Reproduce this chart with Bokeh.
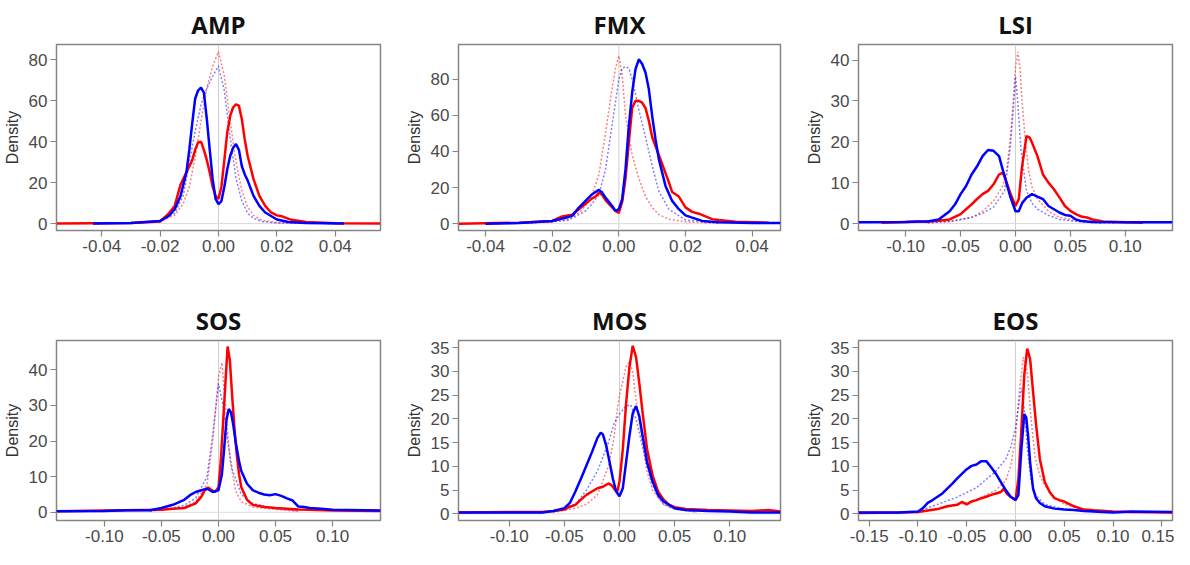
from bokeh.plotting import figure
from bokeh.layouts import row, column
from bokeh.models import Range1d, FixedTicker, NumeralTickFormatter, Span
from bokeh.embed import file_html
from bokeh.resources import INLINE

titles = ["AMP", "FMX", "LSI", "SOS", "MOS", "EOS"]

# ---------------- AMP ----------------
amp_blue_x = [-0.043, -0.03, -0.02, -0.017, -0.015, -0.013, -0.011, -0.010, -0.009, -0.008, -0.007, -0.006, -0.005, -0.004, -0.003, -0.002, -0.001, 0.000, 0.001, 0.002, 0.003, 0.004, 0.005, 0.006, 0.007, 0.008, 0.009, 0.010, 0.012, 0.014, 0.016, 0.018, 0.020, 0.024, 0.030, 0.043]
amp_blue_y = [0.0, 0.3, 1.3, 3.7, 7.0, 13.5, 25, 36, 49, 61, 65, 66.4, 64, 51, 36, 21.7, 12, 9.5, 11, 18, 26.5, 33, 37, 38.8, 36, 28, 24, 21, 13.5, 8.6, 5.4, 3.7, 2.0, 0.8, 0.3, 0.0]
amp_red_x = [-0.0555, -0.03, -0.02, -0.017, -0.015, -0.013, -0.011, -0.009, -0.008, -0.007, -0.006, -0.005, -0.004, -0.003, -0.002, -0.001, 0.000, 0.001, 0.002, 0.003, 0.004, 0.005, 0.006, 0.007, 0.008, 0.009, 0.010, 0.012, 0.014, 0.016, 0.018, 0.020, 0.022, 0.025, 0.030, 0.040, 0.0555]
amp_red_y = [0.0, 0.3, 1.0, 5.0, 8.6, 19, 25, 31, 36, 39.6, 40, 36, 31, 25, 18, 13.5, 12, 18, 31, 44.5, 52.6, 56.7, 58.3, 57.5, 51, 41, 33, 21.7, 13.5, 8.6, 5.4, 4.0, 3.4, 1.8, 0.8, 0.2, 0.0]
amp_dot_x = [-0.03, -0.02, -0.015, -0.012, -0.010, -0.008, -0.006, -0.004, -0.002, 0.000, 0.002, 0.004, 0.006, 0.008, 0.010, 0.012, 0.015, 0.020, 0.030]
amp_rdot_y = [0.2, 1.0, 4, 10, 18, 32, 50, 66, 77, 84, 72, 50, 30, 16, 8, 4, 1.5, 0.5, 0.1]
amp_bdot_y = [0.3, 1.5, 5, 14, 30, 45, 58, 66, 72, 77, 65, 42, 22, 11, 5, 2.5, 1, 0.3, 0.1]

# ---------------- FMX ----------------
fmx_blue_x = [-0.040, -0.03, -0.02, -0.016, -0.014, -0.012, -0.010, -0.008, -0.006, -0.005, -0.004, -0.002, -0.001, 0.000, 0.001, 0.002, 0.003, 0.004, 0.005, 0.006, 0.007, 0.008, 0.009, 0.010, 0.011, 0.012, 0.014, 0.016, 0.018, 0.020, 0.022, 0.025, 0.030, 0.040, 0.0485]
fmx_blue_y = [0.0, 0.3, 1.5, 3.3, 4.3, 8.9, 12.6, 16.3, 18.7, 17.2, 14.4, 9.8, 7.0, 8.0, 13.5, 30, 54, 72.6, 85.6, 91, 88.4, 83.7, 74.5, 59.7, 46.8, 35.7, 20.9, 12.6, 8.0, 4.6, 3.3, 1.5, 0.8, 0.4, 0.4]
fmx_red_x = [-0.0481, -0.03, -0.02, -0.017, -0.014, -0.012, -0.010, -0.008, -0.007, -0.006, -0.005, -0.004, -0.002, -0.001, 0.000, 0.001, 0.002, 0.003, 0.004, 0.005, 0.006, 0.007, 0.008, 0.009, 0.010, 0.011, 0.012, 0.013, 0.014, 0.015, 0.016, 0.018, 0.020, 0.022, 0.024, 0.026, 0.028, 0.030, 0.035, 0.045]
fmx_red_y = [0.0, 0.5, 1.5, 4, 5, 8, 11, 14, 15, 17, 16, 13, 9, 7, 6, 12, 25, 45, 64, 68, 68, 67, 64, 57, 48, 43, 38, 33, 28, 23, 17.5, 15, 9, 6.5, 5.5, 4, 2.5, 2, 1, 0.5]
fmx_rdot_x = [-0.03, -0.02, -0.015, -0.012, -0.010, -0.008, -0.006, -0.004, -0.002, -0.001, 0.000, 0.001, 0.002, 0.004, 0.006, 0.008, 0.010, 0.012, 0.015, 0.020, 0.030]
fmx_rdot_y = [0.2, 1, 2.5, 6, 10, 16, 27, 50, 75, 86, 93, 82, 60, 38, 25, 15, 9, 5, 2.5, 1, 0.2]
fmx_bdot_x = [-0.03, -0.02, -0.015, -0.010, -0.008, -0.006, -0.004, -0.002, 0.000, 0.001, 0.002, 0.003, 0.004, 0.005, 0.006, 0.008, 0.010, 0.012, 0.015, 0.020, 0.030]
fmx_bdot_y = [0.2, 1, 2, 7, 11, 16, 30, 55, 80, 86, 87, 86, 80, 72, 63, 48, 32, 18, 8, 2, 0.4]

# ---------------- LSI ----------------
lsi_blue_x = [-0.143, -0.10, -0.09, -0.08, -0.07, -0.06, -0.055, -0.05, -0.045, -0.04, -0.035, -0.03, -0.025, -0.02, -0.015, -0.01, -0.005, 0.0, 0.003, 0.006, 0.01, 0.015, 0.02, 0.025, 0.03, 0.035, 0.04, 0.045, 0.05, 0.055, 0.06, 0.07, 0.10, 0.143]
lsi_blue_y = [0.3, 0.4, 0.5, 0.5, 1.0, 3.0, 4.7, 7.2, 9.2, 12, 14, 16.5, 18, 17.8, 16.5, 11.6, 6.8, 3.0, 3.0, 5.0, 6.3, 7.2, 6.6, 6.0, 4.3, 3.5, 2.7, 2.1, 1.9, 1.0, 0.6, 0.4, 0.3, 0.3]
lsi_red_x = [-0.122, -0.10, -0.08, -0.07, -0.06, -0.05, -0.045, -0.04, -0.035, -0.03, -0.025, -0.02, -0.015, -0.012, -0.01, -0.005, 0.0, 0.003, 0.006, 0.01, 0.013, 0.015, 0.02, 0.025, 0.03, 0.035, 0.04, 0.045, 0.05, 0.055, 0.06, 0.065, 0.07, 0.08, 0.10, 0.116]
lsi_red_y = [0.2, 0.4, 0.5, 0.7, 1.0, 2.3, 3.5, 4.7, 6.0, 7.2, 8.0, 9.6, 12, 12.4, 11.6, 7.6, 4.3, 6.0, 14, 21.4, 21, 19.8, 16.5, 12, 10, 8.4, 6.4, 4.3, 3.1, 2.3, 1.7, 1.5, 1.0, 0.5, 0.3, 0.2]
lsi_rdot_x = [-0.08, -0.06, -0.04, -0.03, -0.02, -0.012, -0.008, -0.005, -0.002, 0.0, 0.002, 0.004, 0.006, 0.009, 0.012, 0.015, 0.02, 0.03, 0.04, 0.05, 0.07, 0.09]
lsi_rdot_y = [0.2, 0.5, 1.5, 3, 5.5, 9, 13, 20, 30, 38, 42, 38, 30, 20, 13, 9, 6, 3, 1.5, 1, 0.3, 0.1]
lsi_bdot_x = [-0.08, -0.06, -0.04, -0.03, -0.02, -0.01, -0.005, -0.002, 0.0, 0.002, 0.005, 0.01, 0.015, 0.02, 0.03, 0.04, 0.06, 0.08]
lsi_bdot_y = [0.2, 0.5, 1.5, 2.5, 4, 8, 18, 28, 36, 30, 18, 8, 5, 3.5, 2, 1, 0.4, 0.1]

# ---------------- SOS ----------------
sos_blue_x = [-0.142, -0.10, -0.08, -0.06, -0.05, -0.04, -0.03, -0.025, -0.02, -0.015, -0.01, -0.005, 0.0, 0.003, 0.005, 0.007, 0.009, 0.011, 0.013, 0.015, 0.018, 0.02, 0.025, 0.03, 0.035, 0.04, 0.045, 0.05, 0.055, 0.06, 0.065, 0.07, 0.075, 0.08, 0.09, 0.10, 0.142]
sos_blue_y = [0.3, 0.4, 0.6, 0.6, 1.2, 2.1, 3.5, 4.8, 5.7, 6.2, 6.6, 5.7, 6.2, 10.7, 18, 26, 29, 28, 24.4, 19.8, 14.4, 11.6, 8, 6.2, 5.5, 5.0, 4.8, 5.1, 4.6, 3.9, 3.3, 1.6, 1.5, 1.2, 1.0, 0.7, 0.5]
sos_red_x = [-0.142, -0.10, -0.05, -0.04, -0.03, -0.02, -0.015, -0.012, -0.009, -0.006, -0.003, 0.0, 0.002, 0.004, 0.006, 0.008, 0.010, 0.012, 0.014, 0.016, 0.018, 0.02, 0.025, 0.03, 0.04, 0.05, 0.06, 0.07, 0.08, 0.10, 0.142]
sos_red_y = [0.3, 0.5, 0.7, 1.0, 1.2, 2.5, 4.4, 6.2, 7.0, 6.2, 5.7, 7.0, 14.4, 25, 36, 46.5, 42.5, 32.5, 23.5, 16.2, 10.7, 7.0, 3.5, 2.1, 1.5, 1.2, 1.0, 0.8, 0.7, 0.5, 0.4]
sos_rdot_x = [-0.06, -0.04, -0.03, -0.02, -0.01, -0.005, 0.0, 0.003, 0.006, 0.01, 0.015, 0.02, 0.03, 0.05, 0.07]
sos_rdot_y = [0.3, 1, 1.5, 3, 8, 20, 38, 42, 30, 15, 6, 3, 1.5, 0.8, 0.3]
sos_bdot_x = [-0.06, -0.04, -0.03, -0.02, -0.01, -0.005, 0.0, 0.004, 0.008, 0.012, 0.02, 0.03, 0.05, 0.07]
sos_bdot_y = [0.4, 1.2, 2, 4, 10, 22, 36, 30, 20, 12, 5, 2.5, 1, 0.4]

# ---------------- MOS ----------------
mos_blue_x = [-0.146, -0.10, -0.07, -0.06, -0.05, -0.045, -0.04, -0.035, -0.03, -0.025, -0.02, -0.017, -0.015, -0.012, -0.009, -0.006, -0.003, 0.0, 0.003, 0.006, 0.009, 0.012, 0.015, 0.018, 0.021, 0.025, 0.03, 0.035, 0.04, 0.05, 0.06, 0.08, 0.10, 0.12, 0.146]
mos_blue_y = [0.3, 0.3, 0.3, 0.6, 1.2, 2.3, 4.7, 7.4, 10.2, 13, 16, 17.1, 16.7, 14.3, 10.9, 7.4, 4.7, 3.7, 5.4, 10.9, 16.4, 21.2, 22.7, 20.5, 16.4, 10.9, 6.8, 4.0, 2.6, 1.2, 0.8, 0.6, 0.5, 0.3, 0.3]
mos_red_x = [-0.146, -0.10, -0.07, -0.06, -0.05, -0.045, -0.04, -0.035, -0.03, -0.025, -0.02, -0.015, -0.01, -0.007, -0.004, -0.002, 0.0, 0.003, 0.006, 0.009, 0.012, 0.015, 0.018, 0.021, 0.025, 0.03, 0.035, 0.04, 0.045, 0.05, 0.06, 0.08, 0.10, 0.12, 0.135, 0.146]
mos_red_y = [0.3, 0.4, 0.4, 0.6, 0.9, 1.5, 1.9, 3.0, 4.0, 4.7, 5.4, 5.7, 6.4, 6.0, 5.0, 4.7, 6.8, 13.6, 23.3, 30.9, 35.4, 33, 27.4, 21.2, 13.6, 8.1, 4.7, 3.0, 1.9, 1.4, 1.0, 0.8, 0.7, 0.6, 0.8, 0.5]
mos_rdot_x = [-0.06, -0.04, -0.03, -0.02, -0.01, -0.005, -0.002, 0.0, 0.003, 0.006, 0.009, 0.012, 0.015, 0.02, 0.025, 0.03, 0.04, 0.05, 0.07]
mos_rdot_y = [0.3, 1.2, 2, 4, 10, 16, 22, 25, 28, 31, 32, 30, 24, 16, 9, 5, 2, 1, 0.4]
mos_bdot_x = [-0.06, -0.04, -0.03, -0.02, -0.015, -0.01, -0.005, 0.0, 0.005, 0.01, 0.015, 0.02, 0.025, 0.03, 0.035, 0.04, 0.05, 0.07]
mos_bdot_y = [0.5, 2, 5, 9, 12, 15, 19, 21, 22.5, 23, 20, 15, 10, 6, 3.5, 2, 1, 0.4]

# ---------------- EOS ----------------
eos_blue_x = [-0.161, -0.12, -0.10, -0.095, -0.09, -0.085, -0.08, -0.075, -0.07, -0.065, -0.06, -0.055, -0.05, -0.045, -0.04, -0.035, -0.03, -0.025, -0.02, -0.015, -0.01, -0.005, 0.0, 0.003, 0.006, 0.009, 0.011, 0.013, 0.015, 0.018, 0.021, 0.025, 0.03, 0.04, 0.05, 0.06, 0.07, 0.08, 0.10, 0.12, 0.161]
eos_blue_y = [0.3, 0.3, 0.5, 1.2, 2.3, 2.9, 3.6, 4.3, 5.3, 6.3, 7.4, 8.4, 9.4, 10.1, 10.4, 11.1, 11.1, 9.8, 8.4, 6.7, 5.0, 3.6, 2.9, 4.0, 13.5, 21, 20.3, 16.2, 10.8, 5.3, 3.3, 2.3, 1.6, 1.1, 0.9, 0.8, 0.6, 0.5, 0.3, 0.5, 0.4]
eos_red_x = [-0.161, -0.12, -0.10, -0.09, -0.08, -0.07, -0.06, -0.055, -0.05, -0.045, -0.04, -0.035, -0.03, -0.025, -0.02, -0.015, -0.012, -0.009, -0.005, 0.0, 0.003, 0.006, 0.009, 0.012, 0.015, 0.018, 0.021, 0.025, 0.03, 0.035, 0.04, 0.045, 0.05, 0.06, 0.07, 0.08, 0.10, 0.12, 0.161]
eos_red_y = [0.2, 0.3, 0.4, 0.7, 1.0, 1.6, 1.9, 2.5, 2.0, 2.6, 2.9, 3.3, 3.6, 4.0, 4.3, 4.6, 5.3, 4.3, 3.6, 2.9, 7.4, 17.6, 29.2, 34.8, 32.6, 25.8, 19, 11.5, 6.7, 4.6, 3.3, 2.9, 2.6, 1.6, 0.9, 0.75, 0.5, 0.4, 0.3]
eos_rdot_x = [-0.10, -0.08, -0.06, -0.04, -0.02, -0.01, -0.005, 0.0, 0.004, 0.008, 0.012, 0.016, 0.02, 0.025, 0.03, 0.04, 0.05, 0.07, 0.10]
eos_rdot_y = [0.3, 1, 1.8, 3, 5, 7, 10, 16, 26, 33, 30, 20, 12, 8, 6, 3.5, 2, 1, 0.4]
eos_bdot_x = [-0.10, -0.08, -0.06, -0.04, -0.02, -0.01, -0.005, 0.0, 0.004, 0.006, 0.009, 0.012, 0.016, 0.02, 0.03, 0.05, 0.08]
eos_bdot_y = [0.5, 2, 3.5, 5.5, 9, 11.5, 14, 18, 24, 26.5, 22, 14, 7, 4, 2, 1, 0.5]

# axis ranges and ticks
x_ranges = [(-0.0555, 0.0555), (-0.0481, 0.0485), (-0.143, 0.143), (-0.142, 0.142), (-0.146, 0.146), (-0.161, 0.161)]
y_ranges = [(-3.4, 87.5), (-3.8, 99.2), (-1.7, 43.8), (-2.3, 48.2), (-1.4, 36.5), (-1.4, 36.5)]
x_ticks = [[-0.04, -0.02, 0.0, 0.02, 0.04], [-0.04, -0.02, 0.0, 0.02, 0.04],
           [-0.10, -0.05, 0.0, 0.05, 0.10], [-0.10, -0.05, 0.0, 0.05, 0.10],
           [-0.10, -0.05, 0.0, 0.05, 0.10], [-0.15, -0.10, -0.05, 0.0, 0.05, 0.10, 0.15]]
y_ticks = [[0, 20, 40, 60, 80], [0, 20, 40, 60, 80], [0, 10, 20, 30, 40],
           [0, 10, 20, 30, 40], [0, 5, 10, 15, 20, 25, 30, 35], [0, 5, 10, 15, 20, 25, 30, 35]]

series = [
    (amp_dot_x, amp_rdot_y, amp_dot_x, amp_bdot_y, amp_red_x, amp_red_y, amp_blue_x, amp_blue_y),
    (fmx_rdot_x, fmx_rdot_y, fmx_bdot_x, fmx_bdot_y, fmx_red_x, fmx_red_y, fmx_blue_x, fmx_blue_y),
    (lsi_rdot_x, lsi_rdot_y, lsi_bdot_x, lsi_bdot_y, lsi_red_x, lsi_red_y, lsi_blue_x, lsi_blue_y),
    (sos_rdot_x, sos_rdot_y, sos_bdot_x, sos_bdot_y, sos_red_x, sos_red_y, sos_blue_x, sos_blue_y),
    (mos_rdot_x, mos_rdot_y, mos_bdot_x, mos_bdot_y, mos_red_x, mos_red_y, mos_blue_x, mos_blue_y),
    (eos_rdot_x, eos_rdot_y, eos_bdot_x, eos_bdot_y, eos_red_x, eos_red_y, eos_blue_x, eos_blue_y),
]

col_w = [392, 391, 391]
col_left = [55, 66, 75]
col_right = [12, 3, 2]
row_h = [272, 277]
row_top = [44, 68]
row_bottom = [42, 29]

figs = []
for i in range(6):
    r, c = divmod(i, 3)
    p = figure(width=col_w[c], height=row_h[r], output_backend="svg", toolbar_location=None,
               x_range=Range1d(*x_ranges[i]), y_range=Range1d(*y_ranges[i]),
               min_border_left=col_left[c], min_border_right=col_right[c],
               min_border_top=row_top[r], min_border_bottom=row_bottom[r])
    p.title.text = titles[i]
    p.title.align = "center"
    p.title.text_font = "Open Sans"
    p.title.text_font_style = "bold"
    p.title.text_font_size = "24px"
    p.title.text_color = "#111111"
    p.title.standoff = 7
    p.grid.visible = False
    p.outline_line_color = "#858585"
    p.outline_line_width = 1.5
    p.background_fill_color = "white"
    p.border_fill_color = "white"

    for ax in (p.xaxis[0], p.yaxis[0]):
        ax.axis_line_color = None
        ax.major_tick_line_color = "#858585"
        ax.major_tick_line_width = 1.2
        ax.major_tick_out = 6
        ax.major_tick_in = 0
        ax.minor_tick_line_color = None
        ax.major_label_text_font = "Liberation Sans"
        ax.major_label_text_font_size = "17px"
        ax.major_label_text_color = "#4a4a4a"
        ax.major_label_standoff = 3
    p.xaxis.ticker = FixedTicker(ticks=x_ticks[i])
    p.xaxis.formatter = NumeralTickFormatter(format="0.00")
    p.yaxis.ticker = FixedTicker(ticks=y_ticks[i])
    p.yaxis.axis_label = "Density"
    p.yaxis.axis_label_text_font = "Liberation Sans"
    p.yaxis.axis_label_text_font_style = "normal"
    p.yaxis.axis_label_text_font_size = "16px"
    p.yaxis.axis_label_text_color = "#333333"
    p.yaxis.axis_label_standoff = 5

    p.add_layout(Span(location=0, dimension="height", line_color="#cfcfcf", line_width=1, level="underlay"))
    p.add_layout(Span(location=0, dimension="width", line_color="#dcdcdc", line_width=1, level="underlay"))

    rdx, rdy, bdx, bdy, rx, ry, bx, by = series[i]
    p.line(rdx, rdy, line_color="red", line_width=1.5, line_dash="2 2", line_alpha=0.5)
    p.line(bdx, bdy, line_color="blue", line_width=1.5, line_dash="2 2", line_alpha=0.5)
    p.line(rx, ry, line_color="red", line_width=2.5)
    p.line(bx, by, line_color="blue", line_width=2.5)
    figs.append(p)

layout = column(row(figs[0], figs[1], figs[2]), row(figs[3], figs[4], figs[5]))
open("out.html", "w").write(file_html(layout, INLINE))
